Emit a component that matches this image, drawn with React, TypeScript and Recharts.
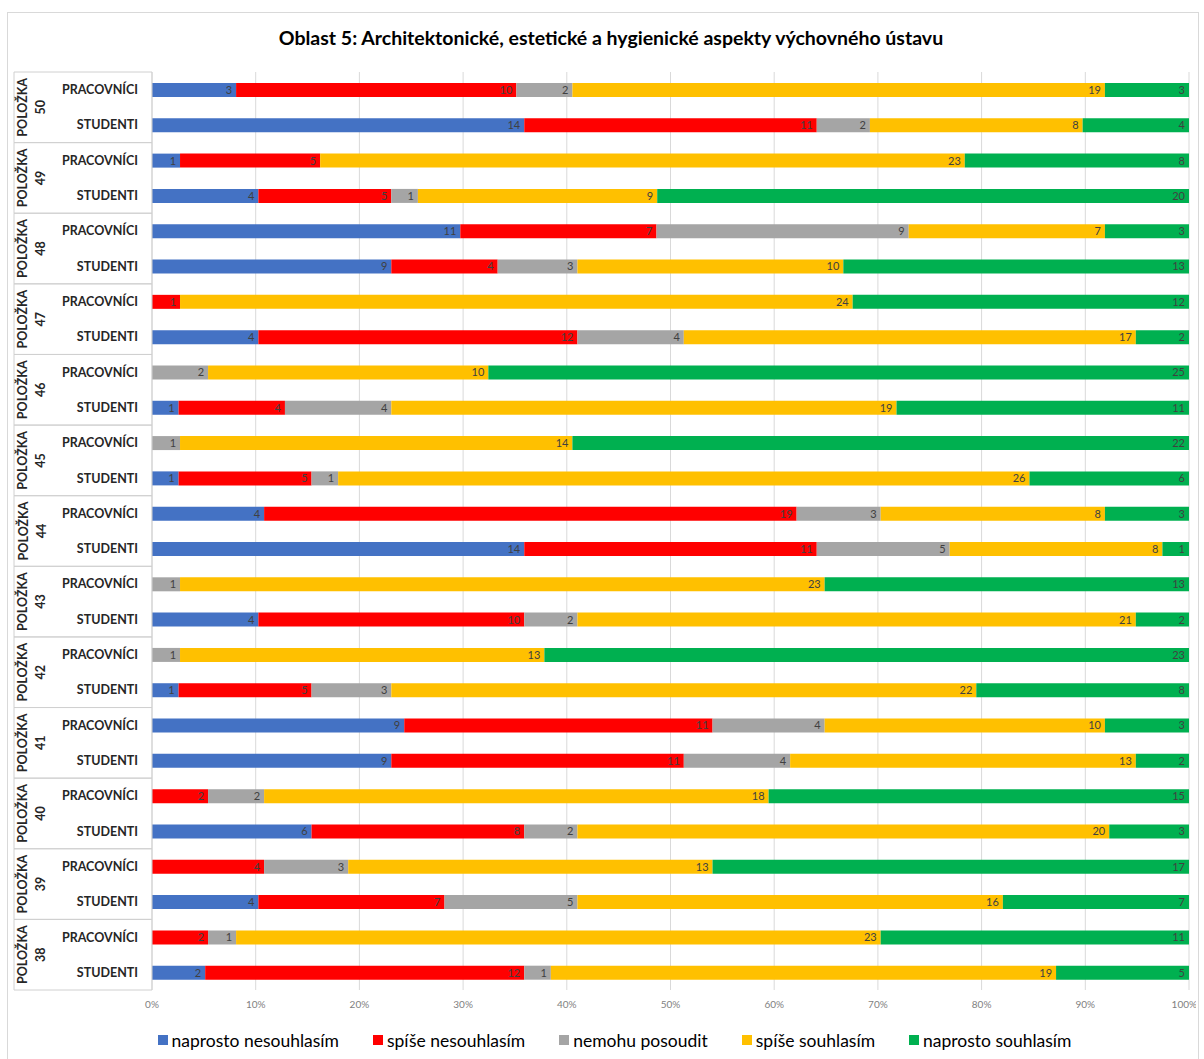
import { BarChart, Bar, XAxis, YAxis, CartesianGrid, Legend, LabelList } from 'recharts';

// top to bottom, each item has two rows (PRACOVNÍCI, STUDENTI)
const items = ['50', '49', '48', '47', '46', '45', '44', '43', '42', '41', '40', '39', '38'];
const roles = ['PRACOVNÍCI', 'STUDENTI'];

const naprostoNesouhlasim = [3, 14, 1, 4, 11, 9, 0, 4, 0, 1, 0, 1, 4, 14, 0, 4, 0, 1, 9, 9, 0, 6, 0, 4, 0, 2];
const spiseNesouhlasim = [10, 11, 5, 5, 7, 4, 1, 12, 0, 4, 0, 5, 19, 11, 0, 10, 0, 5, 11, 11, 2, 8, 4, 7, 2, 12];
const nemohuPosoudit = [2, 2, 0, 1, 9, 3, 0, 4, 2, 4, 1, 1, 3, 5, 1, 2, 1, 3, 4, 4, 2, 2, 3, 5, 1, 1];
const spiseSouhlasim = [19, 8, 23, 9, 7, 10, 24, 17, 10, 19, 14, 26, 8, 8, 23, 21, 13, 22, 10, 13, 18, 20, 13, 16, 23, 19];
const naprostoSouhlasim = [3, 4, 8, 20, 3, 13, 12, 2, 25, 11, 22, 6, 3, 1, 13, 2, 23, 8, 3, 2, 15, 3, 17, 7, 11, 5];

const xTicks = [0, 0.1, 0.2, 0.3, 0.4, 0.5, 0.6, 0.7, 0.8, 0.9, 1];

const series = [
    { key: 'nn', name: 'naprosto nesouhlasím', color: '#4472C4', values: naprostoNesouhlasim },
    { key: 'sn', name: 'spíše nesouhlasím', color: '#FF0000', values: spiseNesouhlasim },
    { key: 'np', name: 'nemohu posoudit', color: '#A5A5A5', values: nemohuPosoudit },
    { key: 'ss', name: 'spíše souhlasím', color: '#FFC000', values: spiseSouhlasim },
    { key: 'ns', name: 'naprosto souhlasím', color: '#00B050', values: naprostoSouhlasim },
];

const data = items.flatMap((item, i) =>
    roles.map((role, j) => {
        const row: { [key: string]: string | number } = { group: item, role };
        series.forEach((s) => {
            row[s.key] = s.values[i * 2 + j];
        });
        return row;
    })
);

const BOX = '#d0d0d0';

function RoleTick({ x, y, payload }: any) {
    return (
        <text x={x} y={y} textAnchor="end" dominantBaseline="central" fontSize={12.5} fontWeight={700} fill="#262626">
            {payload.value}
        </text>
    );
}

// group label (POLOŽKA nn) plus the box lines around the two rows
function GroupTick({ x, y, payload }: any) {
    const half = payload.offset || 35;
    const left = x - 42;
    const right = x + 96;
    return (
        <g>
            <line x1={left} x2={right} y1={y - half} y2={y - half} stroke={BOX} />
            <line x1={left} x2={right} y1={y + half} y2={y + half} stroke={BOX} />
            <line x1={left} x2={left} y1={y - half} y2={y + half} stroke={BOX} />
            <text x={x - 33} y={y} transform={`rotate(-90 ${x - 33} ${y})`} textAnchor="middle" dominantBaseline="central" fontSize={12.5} fontWeight={700} fill="#262626">
                POLOŽKA
            </text>
            <text x={x - 15} y={y} transform={`rotate(-90 ${x - 15} ${y})`} textAnchor="middle" dominantBaseline="central" fontSize={12.5} fontWeight={700} fill="#262626">
                {payload.value}
            </text>
        </g>
    );
}

function LegendContent() {
    return (
        <div style={{ height: 40, display: 'flex', justifyContent: 'center', alignItems: 'center', gap: 34, paddingTop: 4, paddingLeft: 26, boxSizing: 'border-box' }}>
            {series.map((s) => (
                <div key={s.key} style={{ display: 'flex', alignItems: 'center', gap: 4 }}>
                    <span style={{ width: 10, height: 10, background: s.color, display: 'inline-block' }}></span>
                    <span style={{ fontSize: 17.5, color: '#000' }}>{s.name}</span>
                </div>
            ))}
        </div>
    );
}

export default function App() {
    return (
        <div style={{ position: 'absolute', left: 7, top: 12, width: 1190, height: 1046, border: '1px solid #d9d9d9', background: '#fff', fontFamily: 'Lato, sans-serif' }}>
            <div style={{ position: 'absolute', top: 13, left: 0, width: '100%', paddingLeft: 16, boxSizing: 'border-box', textAlign: 'center', fontSize: 19.5, fontWeight: 700, color: '#000' }}>
                Oblast 5: Architektonické, estetické a hygienické aspekty výchovného ústavu
            </div>
            <BarChart
                width={1188}
                height={1045}
                data={data}
                layout="vertical"
                stackOffset="expand"
                barSize={14}
                margin={{ top: 59, right: 7, left: 6, bottom: 0 }}
            >
                <CartesianGrid horizontal={false} stroke="#d9d9d9" />
                <XAxis
                    type="number"
                    domain={[0, 1]}
                    ticks={xTicks}
                    tickFormatter={(v) => `${Math.round(v * 100)}%`}
                    axisLine={false}
                    tickLine={false}
                    tickSize={0}
                    tickMargin={11}
                    height={28}
                    fontSize={10}
                    tick={{ fill: '#7f7f7f' }}
                />
                <YAxis
                    yAxisId="outer"
                    type="category"
                    dataKey="group"
                    allowDuplicatedCategory={false}
                    width={42}
                    interval={0}
                    tickLine={false}
                    tickSize={0}
                    tickMargin={0}
                    axisLine={false}
                    tick={<GroupTick />}
                />
                <YAxis
                    yAxisId="inner"
                    type="category"
                    dataKey="role"
                    width={96}
                    interval={0}
                    tickLine={false}
                    tickSize={0}
                    tickMargin={14}
                    axisLine={{ stroke: BOX }}
                    tick={<RoleTick />}
                />
                <Legend verticalAlign="bottom" content={<LegendContent />} />
                {series.map((s) => (
                    <Bar key={s.key} yAxisId="inner" dataKey={s.key} name={s.name} stackId="a" fill={s.color} isAnimationActive={false}>
                        <LabelList
                            dataKey={s.key}
                            position="insideRight"
                            offset={4}
                            fontSize={11}
                            fill="#404040"
                            formatter={(v: any) => (v ? v : '')}
                        />
                    </Bar>
                ))}
            </BarChart>
        </div>
    );
}
